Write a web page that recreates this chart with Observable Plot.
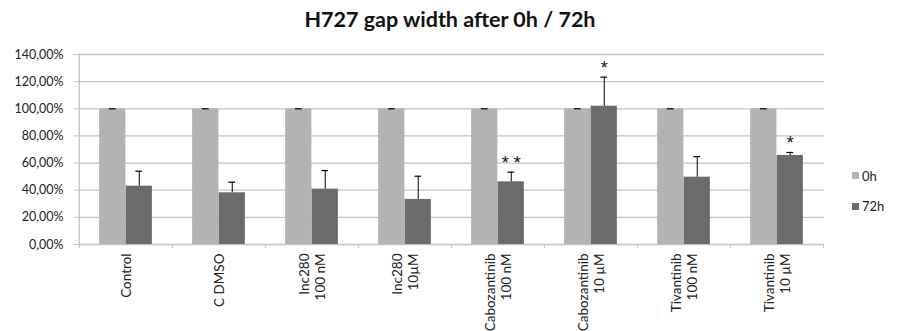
<!DOCTYPE html>
<html>
<head>
<meta charset="utf-8">
<script src="https://cdn.jsdelivr.net/npm/d3@7"></script>
<script src="https://cdn.jsdelivr.net/npm/@observablehq/plot@0.6"></script>
<style>
  html, body { margin: 0; padding: 0; background: #fff; }
  #chart { position: relative; width: 898px; height: 331px; font-family: Lato, "Open Sans", sans-serif; }
  #title { height: 40px; line-height: 38px; text-align: center; font-weight: bold; font-size: 21.5px; color: #111; padding-left: 2px; }
  #legend { position: absolute; left: 852px; top: 168px; font-size: 13px; color: #222; }
  #legend .item { display: flex; align-items: center; height: 15px; margin-bottom: 15.5px; }
  #legend .sw { width: 7px; height: 7px; margin-right: 3px; }
</style>
</head>
<body>
<div id="chart">
  <div id="title">H727 gap width after 0h / 72h</div>
  <div id="legend"></div>
</div>
<script>
// Treatment groups (line breaks mark the two-line axis labels)
const categories = [
  "Control",
  "C DMSO",
  "Inc280\n100 nM",
  "Inc280\n10µM",
  "Cabozantinib\n100 nM",
  "Cabozantinib\n10 µM",
  "Tivantinib\n100 nM",
  "Tivantinib\n10 µM"
];
const seriesNames = ["0h", "72h"];

// Gap width relative to 0h, in percent
const gap0h = [100, 100, 100, 100, 100, 100, 100, 100];
const err0h = [0, 0, 0, 0, 0, 0, 0, 0];
const gap72h = [43.0, 38.1, 40.8, 33.2, 46.2, 101.9, 49.6, 65.6];
const err72h = [11.0, 7.8, 13.7, 17.1, 7.1, 21.4, 15.2, 2.2];
const significance = ["", "", "", "", "* *", "*", "", "*"];

const yTicks = [0, 20, 40, 60, 80, 100, 120, 140];

const colors = { "0h": "#b3b3b3", "72h": "#6b6b6b" };
const gridColor = "#c4c4c4";

// Layout
const width = 898, height = 291;
const marginLeft = 78, marginRight = 74, marginTop = 14, marginBottom = 87;
const step = (width - marginLeft - marginRight) / categories.length;
const barW = 26.5;
const side = (step - 2 * barW) / 2;
const capHalf = 3.5;

const rows = categories.map((c, i) => ({
  category: c,
  v0: gap0h[i], e0: err0h[i],
  v72: gap72h[i], e72: err72h[i],
  sig: significance[i]
}));

const fmt = d => d.toFixed(2).replace(".", ",") + "%";

// Error cap centred on a bar whose centre is `offset` px from the band centre
const cap = (yAcc, offset) => Plot.tickY(rows, {
  x: "category", y: yAcc, stroke: "#000", strokeWidth: 1.2,
  insetLeft: step / 2 + offset - capHalf,
  insetRight: step / 2 - offset - capHalf
});

const plot = Plot.plot({
  width, height, marginLeft, marginRight, marginTop, marginBottom,
  style: { fontFamily: "Lato, 'Open Sans', sans-serif", color: "#222", background: "#fff" },
  x: { domain: categories, padding: 0, label: null },
  y: { domain: [0, 140], label: null },
  marks: [
    // horizontal gridlines
    Plot.ruleY(yTicks, { stroke: gridColor, strokeWidth: 1.3 }),
    // vertical value axis line
    Plot.ruleX(categories.slice(0, 1), { x: d => d, dx: -step / 2, y1: 0, y2: 140, stroke: gridColor, strokeWidth: 1.3 }),
    // 0h bars
    Plot.barY(rows, {
      x: "category", y: "v0", fill: colors["0h"],
      insetLeft: side, insetRight: side + barW
    }),
    // 72h bars
    Plot.barY(rows, {
      x: "category", y: "v72", fill: colors["72h"],
      insetLeft: side + barW, insetRight: side
    }),
    // error bars (upper only)
    Plot.ruleX(rows, { x: "category", y1: "v0", y2: d => d.v0 + d.e0, dx: -barW / 2, stroke: "#000" }),
    Plot.ruleX(rows, { x: "category", y1: "v72", y2: d => d.v72 + d.e72, dx: barW / 2, stroke: "#000" }),
    cap(d => d.v0 + d.e0, -barW / 2),
    cap(d => d.v72 + d.e72, barW / 2),
    // significance markers
    Plot.text(rows.filter(d => d.sig), {
      x: "category", y: d => d.v72 + d.e72, text: "sig",
      dx: barW / 2, dy: -9, fontSize: 18, fontFamily: "'Liberation Sans', sans-serif",
      fill: "#111", lineAnchor: "middle"
    }),
    // value axis
    Plot.axisY({
      ticks: yTicks, tickFormat: fmt, tickSize: 4, tickPadding: 11,
      stroke: gridColor, fontSize: 12.5, fill: "#222"
    }),
    // category boundary ticks
    Plot.axisX({ ticks: categories, tickFormat: () => "", tickSize: 4, dx: -step / 2, stroke: gridColor }),
    Plot.axisX({ ticks: categories.slice(-1), tickFormat: () => "", tickSize: 4, dx: step / 2, stroke: gridColor }),
    // category labels
    Plot.axisX({
      ticks: categories, tickSize: 0, tickPadding: 9, tickRotate: -90,
      fontSize: 13.5, lineHeight: 1.2, fill: "#222"
    })
  ]
});

document.getElementById("chart").insertBefore(plot, document.getElementById("legend"));

// Series legend on the right
const legend = document.getElementById("legend");
seriesNames.forEach(name => {
  const item = document.createElement("div");
  item.className = "item";
  const sw = document.createElement("span");
  sw.className = "sw";
  sw.style.background = colors[name];
  const label = document.createElement("span");
  label.textContent = name;
  item.appendChild(sw);
  item.appendChild(label);
  legend.appendChild(item);
});
</script>
</body>
</html>
